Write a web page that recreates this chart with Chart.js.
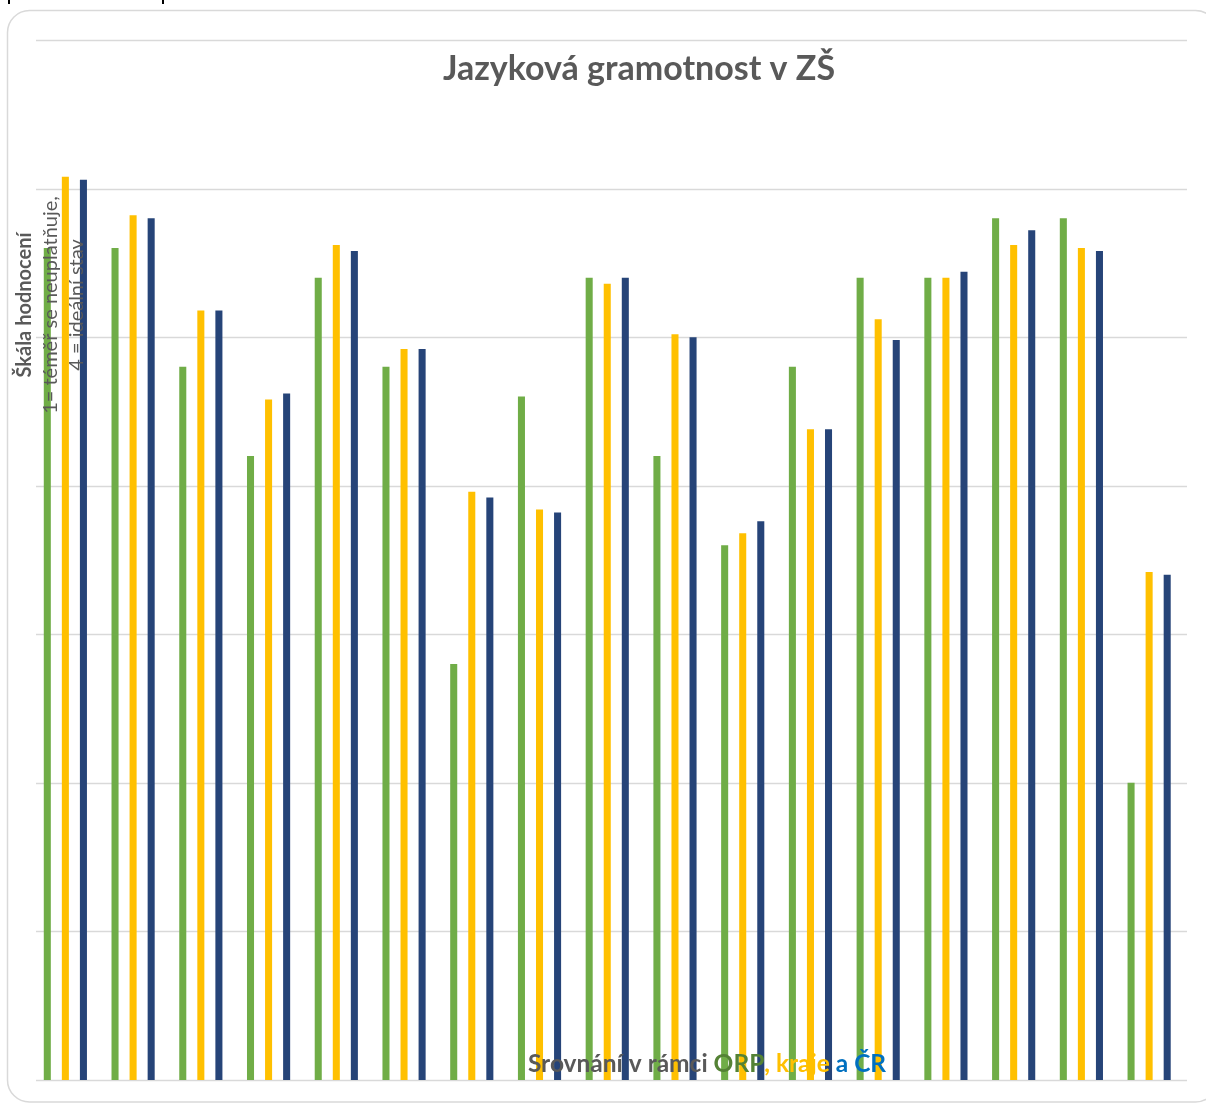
<!DOCTYPE html>
<html>
<head>
<meta charset="utf-8">
<script src="https://cdn.jsdelivr.net/npm/chart.js@4/dist/chart.umd.min.js"></script>
<style>
  html, body { margin: 0; padding: 0; background: #ffffff; }
  canvas { display: block; }
</style>
</head>
<body>
<canvas id="c" width="1206" height="1104"></canvas>
<script>
// ---- data ----
const categories = ["1","2","3","4","5","6","7","8","9","10","11","12","13","14","15","16","17"];
const seriesNames = ["ORP", "kraj", "ČR"];
const orpValues  = [2.80, 2.80, 2.40, 2.10, 2.70, 2.40, 1.40, 2.30, 2.70, 2.10, 1.80, 2.40, 2.70, 2.70, 2.90, 2.90, 1.00];
const krajValues = [3.04, 2.91, 2.59, 2.29, 2.81, 2.46, 1.98, 1.92, 2.68, 2.51, 1.84, 2.19, 2.56, 2.70, 2.81, 2.80, 1.71];
const crValues   = [3.03, 2.90, 2.59, 2.31, 2.79, 2.46, 1.96, 1.91, 2.70, 2.50, 1.88, 2.19, 2.49, 2.72, 2.86, 2.79, 1.70];
const yTicks = [0, 0.5, 1, 1.5, 2, 2.5, 3, 3.5];
const titleText = "Jazyková gramotnost v ZŠ";
const yTitleLines = ["Škála hodnocení", "1= téměř se neuplatňuje,", "4 = ideální stav"];
const xTitleParts = [
  { text: "Srovnání v rámci ", color: "#595959" },
  { text: "ORP", color: "#548235" },
  { text: ", kraje", color: "#FFC000" },
  { text: " a ČR", color: "#0070C0" }
];

const COLORS = ["#70AD47", "#FFC000", "#264478"];

const decorPlugin = {
  id: "decor",
  beforeDraw(chart) {
    const ctx = chart.ctx;
    ctx.save();
    ctx.strokeStyle = "#D9D9D9";
    ctx.lineWidth = 1.5;
    ctx.beginPath();
    if (ctx.roundRect) {
      ctx.roundRect(7.5, 10.5, 1210, 1091.5, 22);
    } else {
      ctx.rect(7.5, 10.5, 1210, 1091.5);
    }
    ctx.stroke();
    ctx.fillStyle = "#000000";
    ctx.fillRect(8, 0, 2, 4);
    ctx.fillRect(162, 0, 2, 4);
    ctx.restore();
  },
  beforeDatasetsDraw(chart) {
    const ctx = chart.ctx;
    const y = chart.scales.y;
    ctx.save();
    ctx.strokeStyle = "#D9D9D9";
    ctx.lineWidth = 1.5;
    yTicks.forEach(v => {
      const py = Math.round(y.getPixelForValue(v)) + 0.5;
      ctx.beginPath();
      ctx.moveTo(36, py);
      ctx.lineTo(1187, py);
      ctx.stroke();
    });
    ctx.restore();
  },
  afterDraw(chart) {
    const ctx = chart.ctx;
    ctx.save();
    ctx.fillStyle = "#595959";
    ctx.font = "bold 34px Lato, 'Open Sans', sans-serif";
    ctx.textAlign = "center";
    ctx.textBaseline = "alphabetic";
    ctx.fillText(titleText, 639, 80);

    ctx.save();
    ctx.translate(0, 305);
    ctx.rotate(-Math.PI / 2);
    ctx.textAlign = "center";
    ctx.fillStyle = "#595959";
    ctx.font = "bold 20px Lato, 'Open Sans', sans-serif";
    ctx.fillText(yTitleLines[0], 0, 31);
    ctx.font = "20px Lato, 'Open Sans', sans-serif";
    ctx.fillText(yTitleLines[1], 0, 57);
    ctx.fillText(yTitleLines[2], 0, 83);
    ctx.restore();

    ctx.font = "bold 24.5px Lato, 'Open Sans', sans-serif";
    ctx.textAlign = "left";
    let total = 0;
    xTitleParts.forEach(p => { total += ctx.measureText(p.text).width; });
    let x = 707 - total / 2;
    xTitleParts.forEach(p => {
      ctx.fillStyle = p.color;
      ctx.fillText(p.text, x, 1072);
      x += ctx.measureText(p.text).width;
    });
    ctx.restore();
  }
};

const valueSets = [orpValues, krajValues, crValues];

new Chart(document.getElementById("c"), {
  type: "bar",
  data: {
    labels: categories,
    datasets: seriesNames.map((name, i) => ({
      label: name,
      data: valueSets[i],
      backgroundColor: COLORS[i],
      borderWidth: 0,
      categoryPercentage: 0.8,
      barPercentage: 0.39
    }))
  },
  options: {
    responsive: false,
    animation: false,
    layout: { padding: { left: 31.5, right: 23, top: 40, bottom: 24 } },
    plugins: {
      legend: { display: false },
      title: { display: false },
      tooltip: { enabled: false }
    },
    scales: {
      x: { display: false, offset: true, grid: { display: false } },
      y: { display: false, min: 0, max: 3.5, ticks: { stepSize: 0.5 }, grid: { display: false } }
    }
  },
  plugins: [decorPlugin]
});
</script>
</body>
</html>
